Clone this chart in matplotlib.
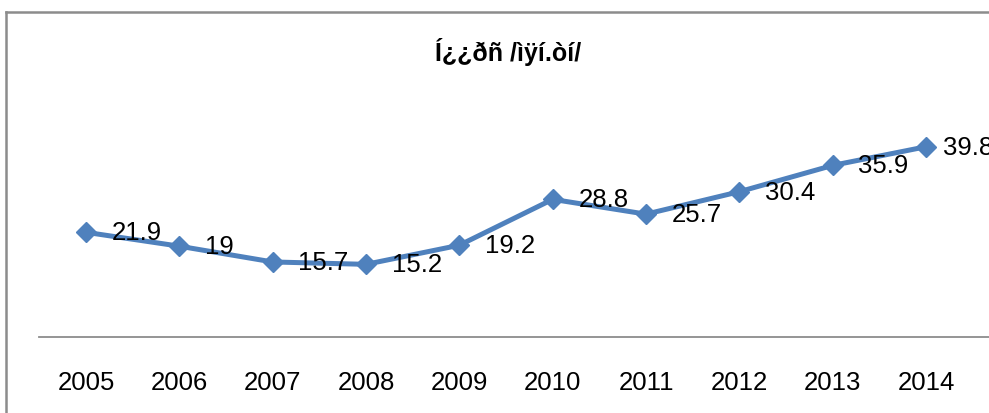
import matplotlib.pyplot as plt
from matplotlib.lines import Line2D

plt.rcParams['font.family'] = ['Liberation Sans', 'DejaVu Sans']

# data
years = ['2005', '2006', '2007', '2008', '2009', '2010', '2011', '2012', '2013', '2014']
values = [21.9, 19, 15.7, 15.2, 19.2, 28.8, 25.7, 30.4, 35.9, 39.8]
labels = ['21.9', '19', '15.7', '15.2', '19.2', '28.8', '25.7', '30.4', '35.9', '39.8']
title = 'Í¿¿ðñ /ìÿí.òí/'

fig = plt.figure(figsize=(9.89, 4.14), dpi=100)

# chart area frame (cut off on right and bottom)
fig.add_artist(Line2D([5.5/989, 5.5/989], [0, 1 - 12.5/414], color='#8c8c8c', lw=1.8))
fig.add_artist(Line2D([5.5/989, 1], [1 - 12.5/414, 1 - 12.5/414], color='#8c8c8c', lw=1.8))
# category axis line runs on past the plot area
fig.add_artist(Line2D([39.3/989, 1], [76/414, 76/414], color='#8c8c8c', lw=1.3))

ax = fig.add_axes([39.3/989, 76/414, 933.4/989, 239/414])
x = list(range(len(years)))
ax.plot(x, values, color='#4f81bd', lw=3.6, marker='D', markersize=10.5,
        markeredgecolor='#4f81bd', markerfacecolor='#4f81bd', clip_on=False)

for xi, v, lab in zip(x, values, labels):
    # last label is pushed in a bit, like excel does at the edge
    off = 12 if xi == len(x) - 1 else 18.5
    ax.annotate(lab, (xi, v), xytext=(off, 0), textcoords='offset points',
                ha='left', va='center', fontsize=18.5, color='black',
                annotation_clip=False)

ax.set_xlim(-0.5, len(years) - 0.5)
ax.set_ylim(0, 50)
ax.set_xticks(x)
ax.set_xticklabels(years, fontsize=18.5)
ax.tick_params(axis='x', length=0, pad=24)
ax.set_yticks([])
for s in ['top', 'right', 'left', 'bottom']:
    ax.spines[s].set_visible(False)

fig.text(508/989, 1 - 52/414, title, ha='center', va='center',
         fontsize=18, fontweight='bold')

fig.savefig('out.png', dpi=100)
